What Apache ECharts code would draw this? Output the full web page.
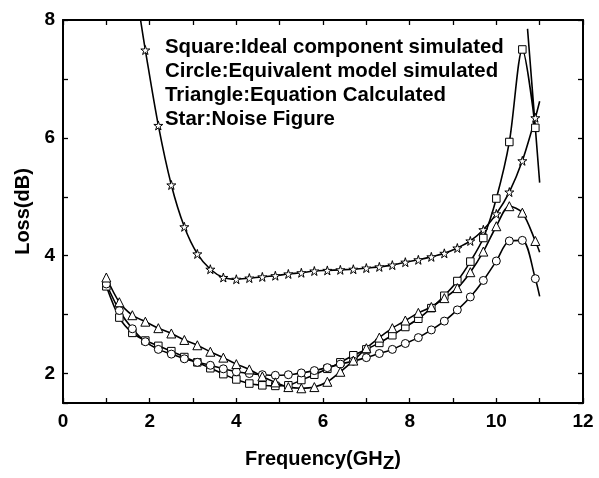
<!DOCTYPE html>
<html>
<head>
<meta charset="utf-8">
<script src="https://cdn.jsdelivr.net/npm/echarts@6/dist/echarts.min.js"></script>
<style>
  html, body { margin: 0; padding: 0; background: #fff; }
  #chart { width: 599px; height: 478px; }
</style>
</head>
<body>
<div id="chart"></div>
<script>
// frequency points where the markers sit (GHz)
let freq = [1.0, 1.3, 1.6, 1.9, 2.2, 2.5, 2.8, 3.1, 3.4, 3.7, 4.0, 4.3, 4.6, 4.9, 5.2, 5.5, 5.8,
  6.1, 6.4, 6.7, 7.0, 7.3, 7.6, 7.9, 8.2, 8.5, 8.8, 9.1, 9.4, 9.7, 10.0, 10.3, 10.6, 10.9];

// Square: ideal component simulated
let squareLoss = [3.48, 2.95, 2.69, 2.56, 2.47, 2.38, 2.28, 2.19, 2.09, 1.99, 1.90, 1.83, 1.80, 1.79, 1.80, 1.89, 1.98,
  2.08, 2.19, 2.31, 2.41, 2.52, 2.65, 2.79, 2.93, 3.11, 3.32, 3.57, 3.90, 4.30, 4.97, 5.93, 7.50, 6.17];
// line points drawn without a marker
let squareExtra = [[10.72, 7.85], [11.0, 5.24]];

// Circle: equivalent model simulated
let circleLoss = [3.52, 3.07, 2.76, 2.54, 2.41, 2.33, 2.25, 2.19, 2.14, 2.08, 2.03, 2.00, 1.98, 1.97, 1.98, 2.01, 2.05,
  2.10, 2.16, 2.21, 2.27, 2.34, 2.41, 2.51, 2.61, 2.74, 2.89, 3.08, 3.30, 3.58, 3.91, 4.25, 4.26, 3.61];
let circleExtra = [[11.0, 3.31]];

// Triangle: equation calculated
let triangleLoss = [3.63, 3.21, 2.99, 2.88, 2.77, 2.68, 2.57, 2.48, 2.37, 2.27, 2.16, 2.07, 1.95, 1.85, 1.77, 1.75, 1.77,
  1.86, 2.03, 2.22, 2.43, 2.61, 2.77, 2.90, 3.03, 3.13, 3.28, 3.45, 3.72, 4.07, 4.50, 4.84, 4.73, 4.25];
let triangleExtra = [[11.0, 4.06]];

// Star: noise figure (starts at the top edge, markers from 1.9 GHz)
let starFreq = [1.9, 2.2, 2.5, 2.8, 3.1, 3.4, 3.7, 4.0, 4.3, 4.6, 4.9, 5.2, 5.5, 5.8,
  6.1, 6.4, 6.7, 7.0, 7.3, 7.6, 7.9, 8.2, 8.5, 8.8, 9.1, 9.4, 9.7, 10.0, 10.3, 10.6, 10.9];
let starLoss = [7.49, 6.21, 5.20, 4.49, 4.03, 3.77, 3.63, 3.60, 3.62, 3.64, 3.66, 3.69, 3.71, 3.74,
  3.75, 3.76, 3.77, 3.79, 3.81, 3.84, 3.89, 3.93, 3.98, 4.04, 4.13, 4.25, 4.44, 4.71, 5.08, 5.61, 6.34];
let starStart = [[1.79, 8.0]];
let starExtra = [[11.0, 6.62]];

let legendLines = [
  'Square:Ideal component simulated',
  'Circle:Equivalent model simulated',
  'Triangle:Equation Calculated',
  'Star:Noise Figure'
];

const FONT = "'Liberation Sans', Arial, sans-serif";
const STAR = 'path://M50,0 L61,35 L98,35 L68,57 L79,91 L50,70 L21,91 L32,57 L2,35 L39,35 Z';

function buildData(xs, ys, before, after) {
  let pts = [];
  (before || []).forEach(p => pts.push({ value: p, symbol: 'none' }));
  xs.forEach((x, i) => pts.push({ value: [x, ys[i]] }));
  (after || []).forEach(p => pts.push({ value: p, symbol: 'none' }));
  return pts;
}

function lineSeries(name, data, symbol, size) {
  return {
    name: name,
    type: 'line',
    smooth: 0.3,
    data: data,
    symbol: symbol,
    symbolSize: size,
    showAllSymbol: true,
    clip: true,
    lineStyle: { color: '#000', width: 1.6 },
    itemStyle: { color: '#fff', borderColor: '#000', borderWidth: 1 },
    emphasis: { disabled: true }
  };
}

// 坐标轴公共样式
let axisCommon = {
  axisLine: { onZero: false, lineStyle: { color: '#000', width: 2 } },
  axisTick: { inside: true, length: 5, lineStyle: { color: '#000', width: 1.3 } },
  splitLine: { show: false }
};

let chart = echarts.init(document.getElementById('chart'));
let option = {
  animation: false,
  backgroundColor: '#fff',
  grid: { left: 63, right: 16, top: 20, bottom: 74 },
  xAxis: [
    Object.assign({
      type: 'value', min: 0, max: 12, interval: 1, position: 'bottom',
      name: 'Frequency(GH{z|Z})',
      nameLocation: 'middle',
      nameGap: 43,
      nameTextStyle: {
        color: '#000', fontFamily: FONT, fontWeight: 'bold', fontSize: 20, verticalAlign: 'top',
        rich: {
          z: { color: '#000', fontFamily: FONT, fontWeight: 'bold', fontSize: 19, verticalAlign: 'bottom', padding: [8, 0, 0, 0] }
        }
      },
      axisLabel: {
        color: '#000', fontFamily: FONT, fontWeight: 'bold', fontSize: 19, margin: 9,
        formatter: v => (v % 2 === 0 ? String(v) : '')
      }
    }, axisCommon),
    Object.assign({
      type: 'value', min: 0, max: 12, interval: 1, position: 'top',
      axisLabel: { show: false }
    }, axisCommon)
  ],
  yAxis: [
    Object.assign({
      type: 'value', min: 1.5, max: 8, splitNumber: 7, minInterval: 1, maxInterval: 1, position: 'left',
      name: 'Loss(dB)',
      nameLocation: 'middle',
      nameGap: 29,
      nameTextStyle: { color: '#000', fontFamily: FONT, fontWeight: 'bold', fontSize: 20 },
      axisLabel: {
        color: '#000', fontFamily: FONT, fontWeight: 'bold', fontSize: 19, margin: 8,
        formatter: v => (Math.abs(v % 2) < 1e-9 ? String(v) : '')
      }
    }, axisCommon),
    Object.assign({
      type: 'value', min: 1.5, max: 8, splitNumber: 7, minInterval: 1, maxInterval: 1, position: 'right',
      axisLabel: { show: false }
    }, axisCommon)
  ],
  graphic: [
    {
      type: 'text',
      left: 165,
      top: 35,
      z: 100,
      style: {
        text: legendLines.join('\n'),
        font: 'bold 20.4px ' + FONT,
        lineHeight: 24,
        fill: '#000'
      }
    }
  ],
  series: [
    lineSeries('Square', buildData(freq, squareLoss, null, squareExtra), 'rect', 7.5),
    lineSeries('Circle', buildData(freq, circleLoss, null, circleExtra), 'circle', 8),
    lineSeries('Triangle', buildData(freq, triangleLoss, null, triangleExtra), 'triangle', 9),
    lineSeries('Star', buildData(starFreq, starLoss, starStart, starExtra), STAR, 9)
  ]
};
chart.setOption(option);
</script>
</body>
</html>
